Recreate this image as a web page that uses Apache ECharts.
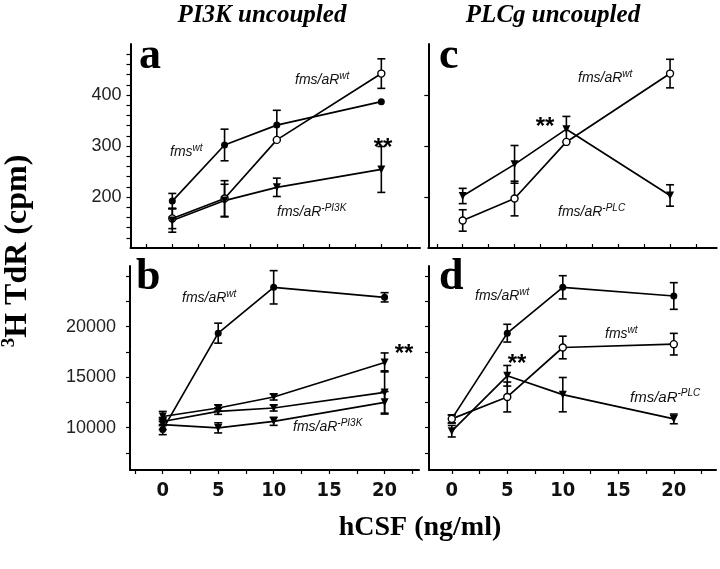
<!DOCTYPE html>
<html><head><meta charset="utf-8">
<script src="https://cdn.jsdelivr.net/npm/echarts@6/dist/echarts.min.js"></script>
<style>html,body{margin:0;padding:0;background:#fff}#c{width:720px;height:569px}</style>
</head><body><div id="c"></div>
<script>
// ---- data ----
const doses = [0, 5, 10, 20];
const xTickValues = [-2.5, 0, 2.5, 5, 7.5, 10, 12.5, 15, 17.5, 20, 22.5];
const xTickLabels = [0, 5, 10, 15, 20];
const yTopTicks = [120,140,160,180,200,220,240,260,280,300,320,340,360,380,400,420,440,460,480];
const yTopLabels = [200, 300, 400];
const yTopTicksC = [200, 300, 400];
const yBotTicks = [7500, 10000, 12500, 15000, 17500, 20000, 22500, 25000];
const yBotLabels = [10000, 15000, 20000];

// panel a (PI3K uncoupled, top)
const aFmsWt = [192, 302, 341, 387];
const aFmsWtErr = [15, 31, 29, 0];
const aARwt = [158, 197, 312, 442];
const aARwtErr = [20, 35, 0, 29];
const aARpi3k = [154, 193, 219, 254];
const aARpi3kErr = [23, 32, 18, 45];
// panel b (PI3K uncoupled, bottom)
const bARwt = [9800, 19350, 23890, 22900];
const bARwtErr = [500, 990, 1650, 460];
const bLine2 = [11100, 11940, 13030, 16450];
const bLine2Err = [500, 300, 300, 940];
const bLine3 = [10600, 11610, 11940, 13480];
const bLine3Err = [400, 300, 300, 2140];
const bARpi3k = [10300, 9970, 10620, 12500];
const bARpi3kErr = [500, 500, 400, 1070];
// panel c (PLCg uncoupled, top)
const cARwt = [154, 197, 308, 442];
const cARwtErr = [21, 34, 0, 28];
const cARplc = [202, 264, 333, 203];
const cARplcErr = [15, 37, 25, 21];
// panel d (PLCg uncoupled, bottom)
const dARwt = [10860, 19350, 23890, 23030];
const dARwtErr = [400, 880, 1150, 1320];
const dFmsWt = [10860, 13030, 17930, 18260];
const dFmsWtErr = [400, 1480, 1120, 1070];
const dARplc = [9640, 15130, 13260, 10860];
const dARplcErr = [570, 1020, 1700, 480];

// ---- chart ----
const chart = echarts.init(document.getElementById('c'));
const BLACK = '#000';
const grids = [
  {left: 130.5, top: 44, width: 289.5, height: 204},   // a
  {left: 130, top: 266, width: 289, height: 204},      // b
  {left: 428.3, top: 44, width: 288.4, height: 204},   // c
  {left: 429, top: 266, width: 287, height: 204}       // d
];
const xRanges = [[-4, 23.7], [-2.95, 23.1], [-3.32, 24.5], [-2.05, 23.8]];
const xLabelFont = {fontFamily: '"Liberation Sans Narrow","Arial Narrow","DejaVu Sans Condensed",sans-serif', fontWeight: 'bold', fontSize: 20, color: '#111'};

const xAxes = grids.map((g, i) => ({
  type: 'value', gridIndex: i, min: xRanges[i][0], max: xRanges[i][1],
  axisLine: {show: true, onZero: false, lineStyle: {color: BLACK, width: 2}},
  splitLine: {show: false},
  axisTick: {show: true, inside: (i === 0 || i === 2), length: 4, customValues: xTickValues, lineStyle: {color: BLACK, width: 1.2}},
  axisLabel: Object.assign({show: (i === 1 || i === 3), customValues: xTickLabels, margin: 11, formatter: v => String(v)}, xLabelFont)
}));
const yAxes = grids.map((g, i) => {
  const top = (i === 0 || i === 2);
  return {
    type: 'value', gridIndex: i,
    min: top ? 100 : 5800, max: top ? 500 : 26000,
    axisLine: {show: true, onZero: false, lineStyle: {color: BLACK, width: 2}},
    splitLine: {show: false},
    axisTick: {show: true, inside: false, length: 4,
      customValues: top ? (i === 0 ? yTopTicks : yTopTicksC) : yBotTicks,
      lineStyle: {color: BLACK, width: 1.2}},
    axisLabel: {show: (i === 0 || i === 1), customValues: top ? yTopLabels : yBotLabels,
      formatter: v => String(v), fontFamily: '"Liberation Sans", Arial, sans-serif',
      fontSize: 18, color: '#222', margin: top ? 9 : 14}
  };
});

function lineSeries(gi, vals, kind) {
  const s = {
    type: 'line', xAxisIndex: gi, yAxisIndex: gi, z: 4,
    data: doses.map((d, k) => [d, vals[k]]),
    symbolSize: 7, lineStyle: {color: BLACK, width: 1.7},
    itemStyle: {color: BLACK}, animation: false
  };
  if (kind === 'open') { s.symbol = 'circle'; s.itemStyle = {color: '#fff', borderColor: BLACK, borderWidth: 1.4}; }
  else if (kind === 'tri') { s.symbol = 'triangle'; s.symbolRotate = 180; s.symbolSize = 8; }
  else { s.symbol = 'circle'; }
  return s;
}
function errSeries(gi, vals, errs) {
  return {
    type: 'custom', xAxisIndex: gi, yAxisIndex: gi, z: 3, animation: false,
    data: doses.map((d, k) => [d, vals[k], errs[k]]),
    encode: {x: 0, y: 1},
    renderItem: function (params, api) {
      const x = api.value(0), y = api.value(1), e = api.value(2);
      if (!e) return {type: 'group', children: []};
      const hi = api.coord([x, y + e]), lo = api.coord([x, y - e]);
      const hw = 4;
      const st = {stroke: BLACK, lineWidth: 1.6};
      return {type: 'group', children: [
        {type: 'line', shape: {x1: hi[0], y1: hi[1], x2: lo[0], y2: lo[1]}, style: st},
        {type: 'line', shape: {x1: hi[0] - hw, y1: hi[1], x2: hi[0] + hw, y2: hi[1]}, style: st},
        {type: 'line', shape: {x1: lo[0] - hw, y1: lo[1], x2: lo[0] + hw, y2: lo[1]}, style: st}
      ]};
    }
  };
}

const series = [
  lineSeries(0, aFmsWt, 'filled'), errSeries(0, aFmsWt, aFmsWtErr),
  lineSeries(0, aARwt, 'open'), errSeries(0, aARwt, aARwtErr),
  lineSeries(0, aARpi3k, 'tri'), errSeries(0, aARpi3k, aARpi3kErr),
  lineSeries(1, bARwt, 'filled'), errSeries(1, bARwt, bARwtErr),
  lineSeries(1, bLine2, 'tri'), errSeries(1, bLine2, bLine2Err),
  lineSeries(1, bLine3, 'tri'), errSeries(1, bLine3, bLine3Err),
  lineSeries(1, bARpi3k, 'tri'), errSeries(1, bARpi3k, bARpi3kErr),
  lineSeries(2, cARwt, 'open'), errSeries(2, cARwt, cARwtErr),
  lineSeries(2, cARplc, 'tri'), errSeries(2, cARplc, cARplcErr),
  lineSeries(3, dARwt, 'filled'), errSeries(3, dARwt, dARwtErr),
  lineSeries(3, dFmsWt, 'open'), errSeries(3, dFmsWt, dFmsWtErr),
  lineSeries(3, dARplc, 'tri'), errSeries(3, dARplc, dARplcErr)
];

const serif = '"Liberation Serif","Times New Roman",serif';
const sans = '"Liberation Sans",Arial,sans-serif';
function richLabel(x, y, main, sup, size) {
  size = size || 14;
  return {type: 'text', x: x, y: y, z: 10, style: {
    text: '{m|' + main + '}{s|' + sup + '}', align: 'left', verticalAlign: 'middle',
    rich: {
      m: {fontFamily: sans, fontStyle: 'italic', fontSize: size, fill: '#111', lineHeight: size + 4},
      s: {fontFamily: sans, fontStyle: 'italic', fontSize: Math.round(size * 0.68), fill: '#111', verticalAlign: 'top', lineHeight: size + 4, padding: [0, 0, 8, 0]}
    }}};
}
function plain(x, y, text, font, align) {
  return {type: 'text', x: x, y: y, z: 10, style: {text: text, font: font, fill: '#000', align: align || 'center', verticalAlign: 'middle'}};
}
const letterFont = 'bold 44px ' + serif;
const graphics = [
  plain(262, 16, 'PI3K uncoupled', 'italic bold 25px ' + serif),
  plain(553, 16, 'PLCg uncoupled', 'italic bold 25px ' + serif),
  plain(420, 528, 'hCSF (ng/ml)', 'bold 28px ' + serif),
  plain(139, 57, 'a', letterFont, 'left'),
  plain(136, 278, 'b', letterFont, 'left'),
  plain(439, 57, 'c', letterFont, 'left'),
  plain(439, 278, 'd', letterFont, 'left'),
  {type: 'text', x: 18, y: 251, rotation: Math.PI / 2, z: 10, style: {
    text: '{s|3}{m|H TdR (cpm)}', align: 'center', verticalAlign: 'middle',
    rich: {
      m: {fontFamily: serif, fontWeight: 'bold', fontSize: 32, fill: '#000', lineHeight: 36},
      s: {fontFamily: serif, fontWeight: 'bold', fontSize: 19, fill: '#000', verticalAlign: 'top', lineHeight: 36, padding: [0, 0, 14, 0]}
    }}},
  // panel a
  richLabel(295, 80, 'fms/aR', 'wt'),
  richLabel(170, 152, 'fms', 'wt'),
  richLabel(277, 212, 'fms/aR', '-PI3K'),
  plain(383, 148, '**', 'bold 24px ' + sans),
  // panel b
  richLabel(182, 298, 'fms/aR', 'wt'),
  richLabel(293, 427, 'fms/aR', '-PI3K'),
  plain(404, 354, '**', 'bold 24px ' + sans),
  // panel c
  richLabel(578, 78, 'fms/aR', 'wt'),
  richLabel(558, 212, 'fms/aR', '-PLC'),
  plain(545, 127, '**', 'bold 24px ' + sans),
  // panel d
  richLabel(475, 296, 'fms/aR', 'wt'),
  richLabel(605, 334, 'fms', 'wt'),
  richLabel(630, 398, 'fms/aR', '-PLC', 15),
  plain(517, 364, '**', 'bold 24px ' + sans)
];

chart.setOption({
  animation: false,
  backgroundColor: '#fff',
  grid: grids,
  xAxis: xAxes,
  yAxis: yAxes,
  series: series,
  graphic: graphics
});
</script></body></html>
